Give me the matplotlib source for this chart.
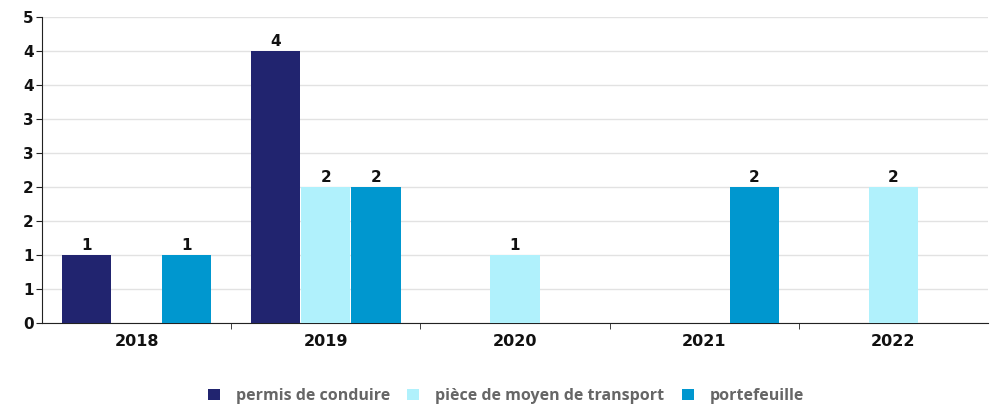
import numpy as np
import matplotlib
matplotlib.use("Agg")
import matplotlib.pyplot as plt
from matplotlib.ticker import FuncFormatter, MultipleLocator, FixedLocator

plt.rcParams["font.family"] = "DejaVu Sans"

years = ["2018", "2019", "2020", "2021", "2022"]
series_names = ["permis de conduire", "pièce de moyen de transport", "portefeuille"]
permis = [1, 4, 0, 0, 0]
piece = [0, 2, 1, 0, 2]
portefeuille = [1, 2, 0, 2, 0]
colors = ["#21246f", "#b0f1fc", "#0097cf"]

fig = plt.figure(figsize=(9.94, 4.08), dpi=100)
ax = fig.add_axes([42 / 994, 1 - 323 / 408, 946 / 994, 306 / 408])

x = np.arange(len(years))
w = 0.265
handles = []
for i, (vals, name, col) in enumerate(zip([permis, piece, portefeuille], series_names, colors)):
    vals = np.array(vals)
    pos = x + (i - 1) * w
    mask = vals > 0
    b = ax.bar(pos[mask], vals[mask], width=w * 0.98, color=col, label=name, zorder=3)
    handles.append(b)
    for px, v in zip(pos[mask], vals[mask]):
        ax.text(px, v + 0.03, str(v), ha="center", va="bottom",
                fontsize=11, fontweight="bold", color="#111111", zorder=4)

ax.set_xlim(-0.5, len(years) - 0.5)
ax.set_ylim(0, 4.5)
ax.yaxis.set_major_locator(MultipleLocator(0.5))
ax.yaxis.set_major_formatter(FuncFormatter(lambda v, p: str(int(v + 0.5))))
ax.grid(axis="y", color="#e2e2e2", linewidth=1, zorder=0)

ax.set_xticks(x)
ax.set_xticklabels(years)
ax.xaxis.set_minor_locator(FixedLocator(x[:-1] + 0.5))
ax.tick_params(axis="x", which="major", length=0, pad=8)
ax.tick_params(axis="x", which="minor", length=4, direction="out", color="#222222")
ax.tick_params(axis="y", length=4, pad=2, color="#222222")
for lab in ax.get_xticklabels():
    lab.set_fontweight("bold")
    lab.set_fontsize(11.5)
    lab.set_color("#111111")
for lab in ax.get_yticklabels():
    lab.set_fontweight("bold")
    lab.set_fontsize(11)
    lab.set_color("#111111")

for s in ["top", "right"]:
    ax.spines[s].set_visible(False)
ax.spines["left"].set_color("#222222")
ax.spines["bottom"].set_color("#222222")

leg = fig.legend(handles=handles, loc="center", bbox_to_anchor=(506 / 994, 1 - 396 / 408),
                 ncol=3, frameon=False, handlelength=0.75, handleheight=0.75,
                 handletextpad=1.0, columnspacing=1.1,
                 prop={"family": "Open Sans", "weight": "bold", "size": 11.5})
for t in leg.get_texts():
    t.set_color("#666666")

fig.savefig("out.png", dpi=100)
